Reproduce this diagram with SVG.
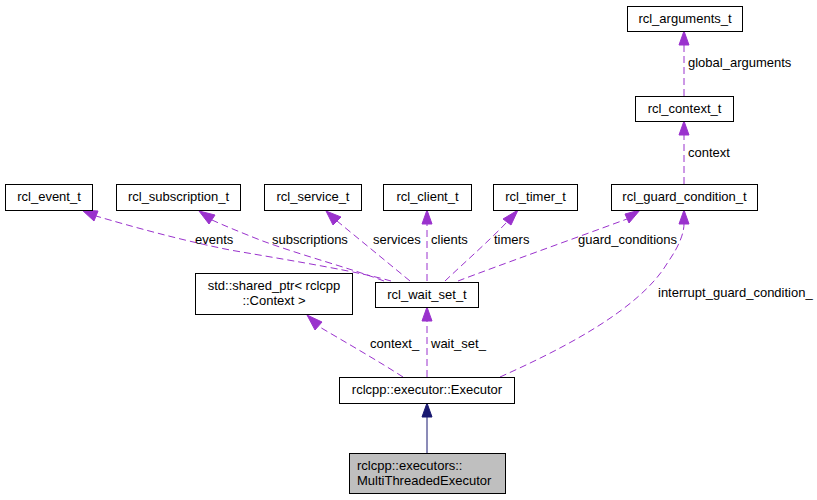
<svg xmlns="http://www.w3.org/2000/svg" width="817" height="500" viewBox="0 0 817 500">
<defs>
<style>
text{font-family:"Liberation Sans",Arial,sans-serif;font-size:13px;fill:#000}
.n rect{fill:#fff;stroke:#000;stroke-width:1}
.n text{text-anchor:middle}
.e{fill:none;stroke:#9a32cd;stroke-width:1;stroke-dasharray:7,4}
.ah{fill:#9a32cd;stroke:#9a32cd}
.inh{fill:none;stroke:#191970;stroke-width:1}
.ih{fill:#191970;stroke:#191970}
</style>
</defs>
<rect width="817" height="500" fill="#fff"/>
<g id="connectors">
<path class="e" d="M391,281 C360,272 300,262 230,250 C180,240 130,226 96,216"/>
<polygon class="ah" points="82,210 98,211 94,221"/>
<path class="e" d="M384,281 C350,268 300,255 260,240 C240,232 225,226 212,220"/>
<polygon class="ah" points="199,211 215,215 209,224"/>
<path class="e" d="M410,281 L337,221"/>
<polygon class="ah" points="326,211 341,217 333,225"/>
<path class="e" d="M427,281 L427,224"/>
<polygon class="ah" points="427,210 432,224 422,224"/>
<path class="e" d="M445,281 C465,262 490,240 507,222"/>
<polygon class="ah" points="518,210 511,225 503,219"/>
<path class="e" d="M458,281 C500,265 570,240 627,219"/>
<polygon class="ah" points="640,210 629,223 625,214"/>
<path class="e" d="M500,377 C560,350 640,310 668,262 C680,245 684,232 684,224"/>
<polygon class="ah" points="684,210 689,224 679,224"/>
<path class="e" d="M403,377 C380,362 345,342 318,326"/>
<polygon class="ah" points="307,315 322,322 315,330"/>
<path class="e" d="M427,377 L427,321"/>
<polygon class="ah" points="427,307 432,321 422,321"/>
<path class="e" d="M684,184 L684,135"/>
<polygon class="ah" points="684,121 689,135 679,135"/>
<path class="e" d="M684,96 L684,45"/>
<polygon class="ah" points="684,31 689,45 679,45"/>
<path class="inh" d="M427,453 L427,417"/>
<polygon class="ih" points="427,403 432,417 422,417"/>
<text x="195" y="244">events</text>
<text x="272" y="244">subscriptions</text>
<text x="373" y="244">services</text>
<text x="431" y="244">clients</text>
<text x="494" y="244">timers</text>
<text x="578" y="244">guard_conditions</text>
<text x="658" y="297">interrupt_guard_condition_</text>
<text x="370" y="348">context_</text>
<text x="431" y="348">wait_set_</text>
<text x="688" y="157">context</text>
<text x="688" y="67">global_arguments</text>
</g>
<g id="rcl_arguments_t" class="n"><rect x="627.5" y="6.5" width="115" height="25"/><text x="685" y="23">rcl_arguments_t</text></g>
<g id="rcl_context_t" class="n"><rect x="635.5" y="96.5" width="98" height="25"/><text x="684.5" y="113">rcl_context_t</text></g>
<g id="rcl_guard_condition_t" class="n"><rect x="611.5" y="184.5" width="146" height="26"/><text x="684.5" y="201">rcl_guard_condition_t</text></g>
<g id="rcl_event_t" class="n"><rect x="5.5" y="184.5" width="87" height="26"/><text x="49" y="201">rcl_event_t</text></g>
<g id="rcl_subscription_t" class="n"><rect x="116.5" y="184.5" width="124" height="26"/><text x="178.5" y="201">rcl_subscription_t</text></g>
<g id="rcl_service_t" class="n"><rect x="264.5" y="184.5" width="97" height="26"/><text x="313" y="201">rcl_service_t</text></g>
<g id="rcl_client_t" class="n"><rect x="383.5" y="184.5" width="88" height="26"/><text x="427.5" y="201">rcl_client_t</text></g>
<g id="rcl_timer_t" class="n"><rect x="493.5" y="184.5" width="84" height="26"/><text x="535.5" y="201">rcl_timer_t</text></g>
<g id="rcl_wait_set_t" class="n"><rect x="375.5" y="282.5" width="103" height="25"/><text x="427" y="299">rcl_wait_set_t</text></g>
<g id="shared_ptr_context" class="n"><rect x="195.5" y="273.5" width="157" height="41"/><text x="274" y="290">std::shared_ptr&lt; rclcpp</text><text x="274" y="305">::Context &gt;</text></g>
<g id="executor" class="n"><rect x="339.5" y="377.5" width="175" height="26"/><text x="427" y="394">rclcpp::executor::Executor</text></g>
<g id="multithreaded_executor"><rect x="349.5" y="453.5" width="156" height="40" fill="#bfbfbf" stroke="#000"/><text x="357" y="470">rclcpp::executors::</text><text x="357" y="485">MultiThreadedExecutor</text></g>
</svg>
